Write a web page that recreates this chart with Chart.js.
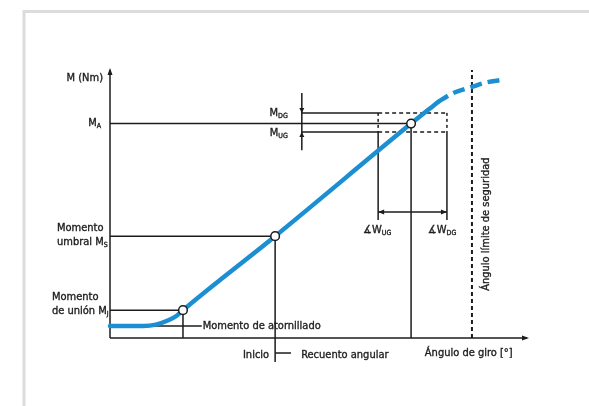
<!DOCTYPE html>
<html>
<head>
<meta charset="utf-8">
<script src="https://cdn.jsdelivr.net/npm/chart.js@4"></script>
<style>
  html, body { margin: 0; padding: 0; background: #fff; }
  #wrap { width: 589px; height: 406px; position: relative; }
</style>
</head>
<body>
<div id="wrap"><canvas id="torque" width="589" height="406"></canvas></div>
<script>
// tightening curve (angle units 0-100, torque units 0-100)
const curveAngle = [0, 8, 11, 14, 16, 17.5, 39.6, 72.2, 78.6];
const curveTorque = [4.5, 4.5, 5, 6.6, 8.3, 10.4, 38, 80, 88];
const extAngle = [78.6, 82, 86.8, 90, 94];
const extTorque = [88, 91.2, 93.7, 95.3, 96.3];

// torque levels
const torqueScrewIn = 4.5;
const torqueJoint = 10.4;
const torqueThreshold = 38;
const torqueAssembly = 80;
const torqueUpper = 84;
const torqueLower = 76.9;

// angle positions
const angleJoint = 17.5;
const angleThreshold = 39.6;
const angleAssembly = 72.2;
const angleLower = 64.3;
const angleUpper = 80.8;
const angleLimit = 86.8;
const angleTolMark = 46;

const ink = '#1c1c1c';
const blue = '#1b8fd2';
const FONT = '"Liberation Sans Narrow", "DejaVu Sans Condensed", sans-serif';

function seg(x1, y1, x2, y2, dash, width) {
    return {
        type: 'scatter',
        data: [{x: x1, y: y1}, {x: x2, y: y2}],
        showLine: true,
        borderColor: ink,
        borderWidth: width || 1.5,
        borderDash: dash || [],
        pointRadius: 0,
        clip: false
    };
}

const datasets = [
    // markers
    {
        type: 'scatter',
        data: [
            {x: angleJoint, y: torqueJoint},
            {x: angleThreshold, y: torqueThreshold},
            {x: angleAssembly, y: torqueAssembly}
        ],
        pointRadius: 4.3,
        pointBackgroundColor: '#fff',
        pointBorderColor: ink,
        pointBorderWidth: 1.5,
        showLine: false,
        clip: false
    },
    // tightening curve
    {
        type: 'line',
        data: curveAngle.map((a, i) => ({x: a, y: curveTorque[i]})),
        borderColor: blue,
        borderWidth: 4.5,
        pointRadius: 0,
        cubicInterpolationMode: 'monotone',
        borderCapStyle: 'round',
        clip: false
    },
    {
        type: 'line',
        data: extAngle.map((a, i) => ({x: a, y: extTorque[i]})),
        borderColor: blue,
        borderWidth: 4.5,
        borderDash: [12, 6],
        pointRadius: 0,
        cubicInterpolationMode: 'monotone',
        clip: false
    },
    // axes
    seg(0, 0, 0, 100),
    seg(0, 0, 100, 0),
    // horizontal reference lines
    seg(0, torqueAssembly, angleAssembly, torqueAssembly),
    seg(0, torqueThreshold, angleThreshold, torqueThreshold),
    seg(0, torqueJoint, angleJoint, torqueJoint),
    seg(0, torqueScrewIn, 22, torqueScrewIn),
    seg(angleTolMark, torqueUpper, angleLower, torqueUpper),
    seg(angleLower, torqueUpper, angleUpper, torqueUpper, [4, 3]),
    seg(angleTolMark, torqueLower, angleLower, torqueLower),
    seg(angleLower, torqueLower, angleUpper, torqueLower, [4, 3]),
    // vertical reference lines
    seg(angleJoint, torqueJoint, angleJoint, 0),
    seg(angleThreshold, torqueThreshold, angleThreshold, -9),
    seg(angleThreshold, -5.6, 43.4, -5.6),
    seg(angleAssembly, torqueAssembly, angleAssembly, 0),
    seg(angleTolMark, 91.4, angleTolMark, 70.1),
    seg(angleLower, torqueUpper, angleLower, torqueLower, [3, 3]),
    seg(angleLower, torqueLower, angleLower, 44),
    seg(angleUpper, torqueUpper, angleUpper, torqueLower, [3, 3]),
    seg(angleUpper, torqueLower, angleUpper, 44),
    seg(angleLower, 47, angleUpper, 47),
    seg(angleLimit, 0, angleLimit, 100, [4, 3], 2)
];

function arrow(ctx, x, y, dir, len, half) {
    ctx.save();
    ctx.translate(x, y);
    ctx.rotate(dir);
    ctx.beginPath();
    ctx.moveTo(0, 0);
    ctx.lineTo(-len, -half);
    ctx.lineTo(-len, half);
    ctx.closePath();
    ctx.fillStyle = ink;
    ctx.fill();
    ctx.restore();
}

// text with a light stroke so the narrow face reads as heavy as the print
function put(ctx, t, x, y) {
    ctx.fillText(t, x, y);
    ctx.lineWidth = 0.35;
    ctx.strokeText(t, x, y);
}

function sub(ctx, main, s, x, y, align) {
    ctx.font = '11px ' + FONT;
    const w1 = ctx.measureText(main).width;
    ctx.font = '7px ' + FONT;
    const w2 = ctx.measureText(s).width;
    let x0 = x;
    if (align === 'right') x0 = x - w1 - w2;
    ctx.textAlign = 'left';
    ctx.textBaseline = 'middle';
    ctx.font = '11px ' + FONT;
    put(ctx, main, x0, y);
    ctx.font = '7px ' + FONT;
    put(ctx, s, x0 + w1, y + 3);
}

function text(ctx, t, x, y, align) {
    ctx.font = '11px ' + FONT;
    ctx.textAlign = align || 'left';
    ctx.textBaseline = 'middle';
    put(ctx, t, x, y);
}

const frame = {
    id: 'frame',
    beforeDraw(chart) {
        const ctx = chart.ctx;
        ctx.save();
        ctx.fillStyle = '#fff';
        ctx.fillRect(0, 0, chart.width, chart.height);
        ctx.strokeStyle = '#dcdcdc';
        ctx.lineWidth = 3;
        ctx.beginPath();
        ctx.moveTo(24, chart.height);
        ctx.lineTo(24, 11.5);
        ctx.lineTo(chart.width, 11.5);
        ctx.stroke();
        ctx.restore();
    }
};

const notes = {
    id: 'notes',
    afterDraw(chart) {
        const ctx = chart.ctx;
        const xs = chart.scales.x, ys = chart.scales.y;
        const px = v => xs.getPixelForValue(v);
        const py = v => ys.getPixelForValue(v);
        ctx.save();
        // arrowheads
        arrow(ctx, px(0), py(100) - 2, -Math.PI / 2, 7, 2.5);
        arrow(ctx, px(100) + 2, py(0), 0, 7, 2.5);
        arrow(ctx, px(angleLower), py(47), Math.PI, 6, 2.5);
        arrow(ctx, px(angleUpper), py(47), 0, 6, 2.5);
        arrow(ctx, px(angleTolMark), py(torqueUpper), Math.PI / 2, 5, 2.5);
        arrow(ctx, px(angleTolMark), py(torqueLower), -Math.PI / 2, 5, 2.5);

        ctx.fillStyle = '#1e1e1e';
        ctx.strokeStyle = '#1e1e1e';
        text(ctx, 'M (Nm)', px(0) - 7, py(100) + 8, 'right');
        sub(ctx, 'M', 'A', px(0) - 9, py(torqueAssembly), 'right');
        sub(ctx, 'M', 'DG', px(angleTolMark) - 14, py(torqueUpper), 'right');
        sub(ctx, 'M', 'UG', px(angleTolMark) - 14, py(torqueLower) + 1, 'right');

        text(ctx, 'Momento', 57, py(torqueThreshold) - 8);
        sub(ctx, 'umbral M', 'S', 57, py(torqueThreshold) + 6, 'left');
        text(ctx, 'Momento', 52, py(torqueJoint) - 13);
        sub(ctx, 'de unión M', 'J', 52, py(torqueJoint) + 1, 'left');

        text(ctx, 'Momento de atornillado', px(22) + 1, py(torqueScrewIn));
        text(ctx, 'Inicio', px(angleThreshold) - 6, py(-6.3), 'right');
        text(ctx, 'Recuento angular', px(angleThreshold) + 26, py(-6.3));
        text(ctx, 'Ángulo de giro [°]', px(75.5), py(-5.6));

        sub(ctx, '∡W', 'UG', px(angleLower) - 15, py(40.3), 'left');
        sub(ctx, '∡W', 'DG', px(angleUpper) - 19, py(40.3), 'left');

        ctx.save();
        ctx.translate(px(angleLimit) + 14, py(42.5));
        ctx.rotate(-Math.PI / 2);
        text(ctx, 'Ángulo límite de seguridad', 0, 0, 'center');
        ctx.restore();
        ctx.restore();
    }
};

new Chart(document.getElementById('torque'), {
    type: 'scatter',
    data: { datasets },
    options: {
        responsive: false,
        animation: false,
        events: [],
        layout: { padding: { left: 110, right: 62, top: 70, bottom: 68 } },
        scales: {
            x: { type: 'linear', min: 0, max: 100, display: false },
            y: { type: 'linear', min: 0, max: 100, display: false }
        },
        plugins: { legend: { display: false }, tooltip: { enabled: false } }
    },
    plugins: [frame, notes]
});
</script>
</body>
</html>
